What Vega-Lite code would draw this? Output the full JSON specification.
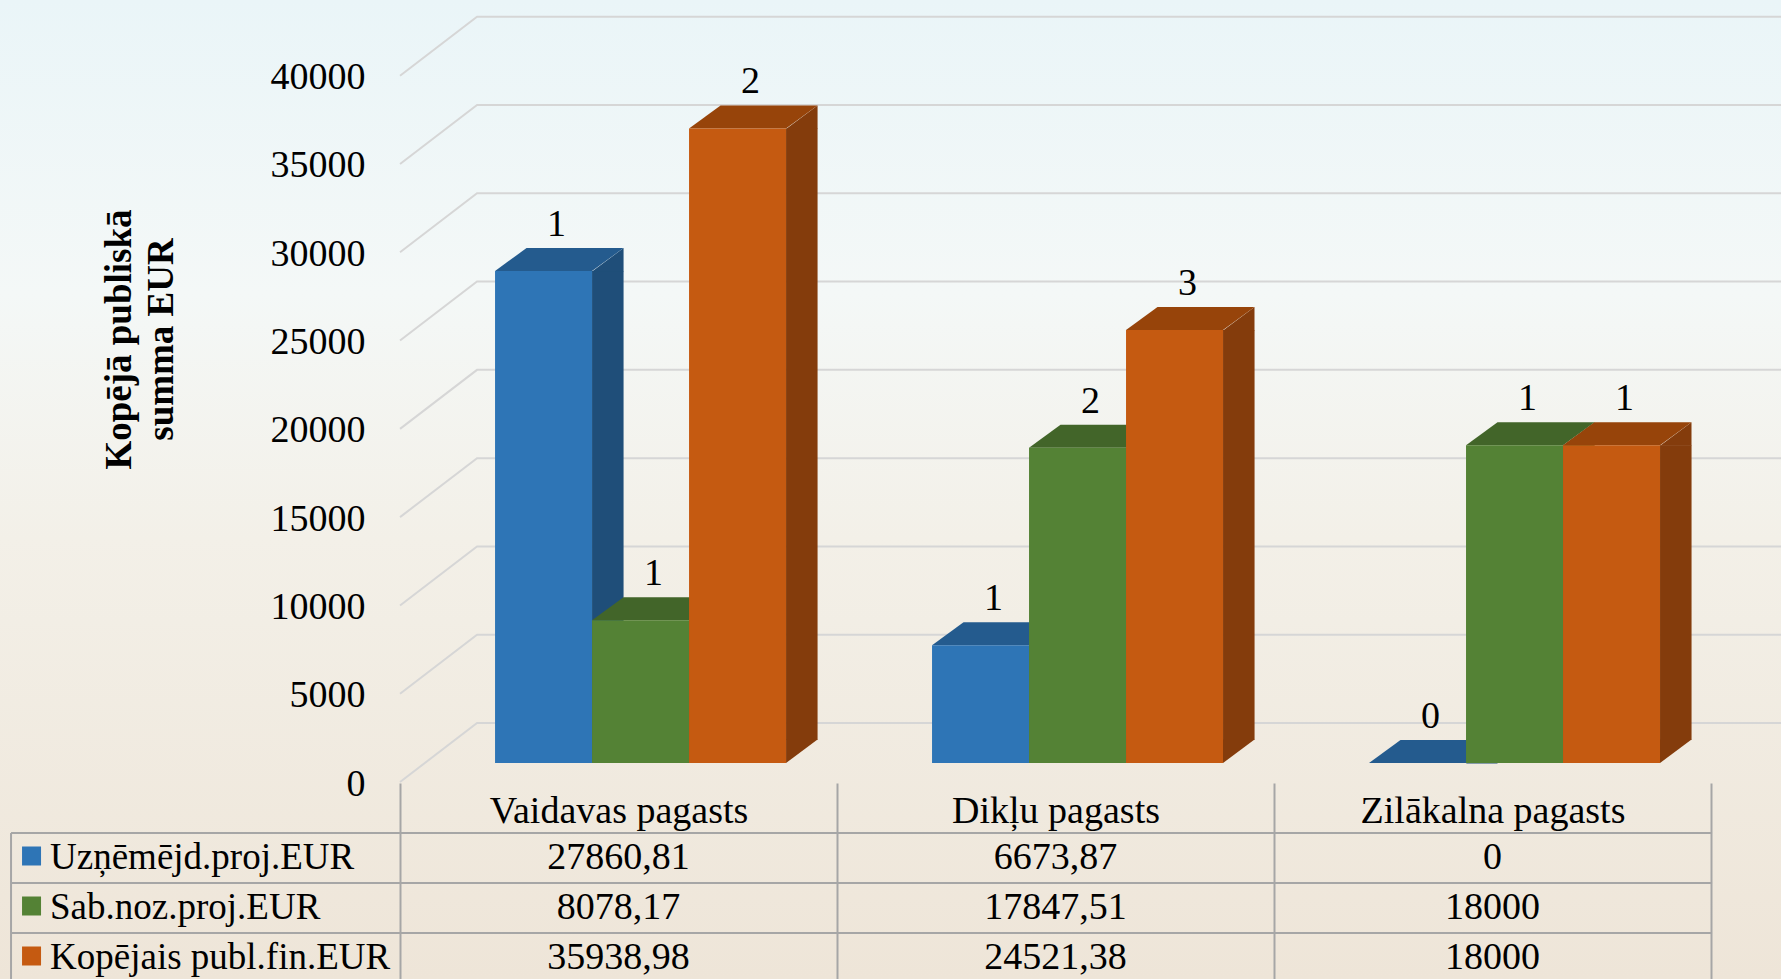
{
  "$schema": "https://vega.github.io/schema/vega-lite/v6.json",
  "width": 1781,
  "height": 979,
  "autosize": {"type": "none"},
  "padding": 0,
  "background": "#f1ede6",
  "config": {"view": {"stroke": null}, "font": "Liberation Serif"},
  "datasets": {
    "bars": [
      {"region": "Vaidavas pagasts", "series": "Uzņēmējd.proj.EUR", "value": 27860.81, "count": 1, "label": "27860,81"},
      {"region": "Vaidavas pagasts", "series": "Sab.noz.proj.EUR", "value": 8078.17, "count": 1, "label": "8078,17"},
      {"region": "Vaidavas pagasts", "series": "Kopējais publ.fin.EUR", "value": 35938.98, "count": 2, "label": "35938,98"},
      {"region": "Dikļu pagasts", "series": "Uzņēmējd.proj.EUR", "value": 6673.87, "count": 1, "label": "6673,87"},
      {"region": "Dikļu pagasts", "series": "Sab.noz.proj.EUR", "value": 17847.51, "count": 2, "label": "17847,51"},
      {"region": "Dikļu pagasts", "series": "Kopējais publ.fin.EUR", "value": 24521.38, "count": 3, "label": "24521,38"},
      {"region": "Zilākalna pagasts", "series": "Uzņēmējd.proj.EUR", "value": 0, "count": 0, "label": "0"},
      {"region": "Zilākalna pagasts", "series": "Sab.noz.proj.EUR", "value": 18000, "count": 1, "label": "18000"},
      {"region": "Zilākalna pagasts", "series": "Kopējais publ.fin.EUR", "value": 18000, "count": 1, "label": "18000"}
    ],
    "grid": [{"v": 0}, {"v": 5000}, {"v": 10000}, {"v": 15000}, {"v": 20000}, {"v": 25000}, {"v": 30000}, {"v": 35000}, {"v": 40000}],
    "bg": [{"k": 1}]
  },
  "resolve": {"scale": {"y": "independent", "color": "independent"}},
  "layer": [
    {
      "data": {"name": "bg"},
      "mark": {"type": "rect", "fill": {"gradient": "linear", "x1": 0, "y1": 0, "x2": 0, "y2": 1, "stops": [{"offset": 0, "color": "#eaf5f8"}, {"offset": 0.3, "color": "#f4f8f7"}, {"offset": 0.55, "color": "#f3f0e8"}, {"offset": 1, "color": "#eee5d8"}]}},
      "encoding": {}
    },
    {
      "resolve": {"scale": {"color": "independent", "xOffset": "independent"}},
      "layer": [
        {
          "data": {"name": "grid"},
          "mark": {"type": "point", "shape": "M-218.5,19L-141.5,-40L1162.5,-40", "size": 4, "filled": false, "stroke": "#d6d6d6", "strokeWidth": 2, "opacity": 1},
          "encoding": {
            "x": {"datum": "Vaidavas pagasts", "type": "nominal", "scale": {"type": "band", "domain": ["Vaidavas pagasts", "Dikļu pagasts", "Zilākalna pagasts"], "paddingInner": 0, "paddingOuter": 0.5378, "align": 0.8511},
              "axis": {"orient": "bottom", "zindex": 1, "offset": -196, "tickBand": "extent", "tickSize": 196, "tickColor": "#a6a6a6", "tickWidth": 2, "domain": false, "grid": false, "title": null, "labelFontSize": 38, "labelFont": "Liberation Serif", "labelColor": "#000", "labelPadding": -187, "labelLimit": 0, "labelAngle": 0}},
            "y": {"field": "v", "type": "quantitative", "scale": {"domain": [-12232, 43210], "nice": false, "zero": false},
              "axis": {"orient": "left", "zindex": 1, "offset": -375, "values": [0, 5000, 10000, 15000, 20000, 25000, 30000, 35000, 40000], "format": "d", "ticks": false, "domain": false, "grid": false, "labelFontSize": 38, "labelFont": "Liberation Serif", "labelColor": "#000", "labelPadding": 10, "labelOffset": 21, "labelLimit": 0,
                "title": ["Kopējā publiskā", "summa EUR"], "titleFont": "Liberation Serif", "titleFontSize": 37, "titleFontWeight": "bold", "titleColor": "#000", "titleAngle": -90, "titleAlign": "center", "titleBaseline": "middle", "titleX": -256, "titleY": 339, "titleLineHeight": 42, "titleLimit": 0}}
          }
        },
        {
          "data": {"name": "bars"},
          "mark": {"type": "bar", "y2Offset": -23},
          "encoding": {
            "x": {"field": "region", "type": "nominal",
              "axis": {"orient": "bottom", "zindex": 1, "offset": -196, "tickBand": "extent", "tickSize": 196, "tickColor": "#a6a6a6", "tickWidth": 2, "domain": false, "grid": false, "title": null, "labelFontSize": 38, "labelFont": "Liberation Serif", "labelColor": "#000", "labelPadding": -187, "labelLimit": 0, "labelAngle": 0}},
            "xOffset": {"field": "series", "type": "nominal", "scale": {"type": "band", "domain": ["_z", "Uzņēmējd.proj.EUR", "Sab.noz.proj.EUR", "Kopējais publ.fin.EUR"], "paddingInner": 0.675, "paddingOuter": 0.59, "align": 0.83}},
            "y": {"field": "value", "type": "quantitative",
              "axis": {"orient": "left", "zindex": 1, "offset": -375, "values": [0, 5000, 10000, 15000, 20000, 25000, 30000, 35000, 40000], "format": "d", "ticks": false, "domain": false, "grid": false, "labelFontSize": 38, "labelFont": "Liberation Serif", "labelColor": "#000", "labelPadding": 10, "labelOffset": 21, "labelLimit": 0,
                "title": ["Kopējā publiskā", "summa EUR"], "titleFont": "Liberation Serif", "titleFontSize": 37, "titleFontWeight": "bold", "titleColor": "#000", "titleAngle": -90, "titleAlign": "center", "titleBaseline": "middle", "titleX": -256, "titleY": 339, "titleLineHeight": 42, "titleLimit": 0}},
            "y2": {"datum": 0},
            "color": {"field": "series", "type": "nominal", "scale": {"domain": ["Uzņēmējd.proj.EUR", "Sab.noz.proj.EUR", "Kopējais publ.fin.EUR"], "range": ["#1f4e79", "#3a5d25", "#843c0c"]}, "legend": null}
          }
        },
        {
          "data": {"name": "bars"},
          "mark": {"type": "point", "shape": "M48.5,0.5L80,-23L80,0.5Z", "size": 4, "filled": true, "opacity": 1, "strokeWidth": 0},
          "encoding": {
            "x": {"field": "region", "type": "nominal",
              "axis": {"orient": "bottom", "zindex": 1, "offset": -196, "tickBand": "extent", "tickSize": 196, "tickColor": "#a6a6a6", "tickWidth": 2, "domain": false, "grid": false, "title": null, "labelFontSize": 38, "labelFont": "Liberation Serif", "labelColor": "#000", "labelPadding": -187, "labelLimit": 0, "labelAngle": 0}},
            "xOffset": {"field": "series", "type": "nominal", "scale": {"type": "band", "domain": ["Uzņēmējd.proj.EUR", "Sab.noz.proj.EUR", "Kopējais publ.fin.EUR"], "paddingInner": 0, "paddingOuter": 0.7526, "align": 0.6507}},
            "y": {"field": "value", "type": "quantitative",
              "axis": {"orient": "left", "zindex": 1, "offset": -375, "values": [0, 5000, 10000, 15000, 20000, 25000, 30000, 35000, 40000], "format": "d", "ticks": false, "domain": false, "grid": false, "labelFontSize": 38, "labelFont": "Liberation Serif", "labelColor": "#000", "labelPadding": 10, "labelOffset": 21, "labelLimit": 0,
                "title": ["Kopējā publiskā", "summa EUR"], "titleFont": "Liberation Serif", "titleFontSize": 37, "titleFontWeight": "bold", "titleColor": "#000", "titleAngle": -90, "titleAlign": "center", "titleBaseline": "middle", "titleX": -256, "titleY": 339, "titleLineHeight": 42, "titleLimit": 0}},
            "color": {"field": "series", "type": "nominal", "scale": {"domain": ["Uzņēmējd.proj.EUR", "Sab.noz.proj.EUR", "Kopējais publ.fin.EUR"], "range": ["#1f4e79", "#3a5d25", "#843c0c"]}, "legend": null}
          }
        },
        {
          "data": {"name": "bars"},
          "mark": {"type": "point", "shape": "M48.5,-23.5L80,-23.5L48.5,0Z", "size": 4, "filled": true, "opacity": 1, "strokeWidth": 0},
          "encoding": {
            "x": {"field": "region", "type": "nominal",
              "axis": {"orient": "bottom", "zindex": 1, "offset": -196, "tickBand": "extent", "tickSize": 196, "tickColor": "#a6a6a6", "tickWidth": 2, "domain": false, "grid": false, "title": null, "labelFontSize": 38, "labelFont": "Liberation Serif", "labelColor": "#000", "labelPadding": -187, "labelLimit": 0, "labelAngle": 0}},
            "xOffset": {"field": "series", "type": "nominal", "scale": {"type": "band", "domain": ["Uzņēmējd.proj.EUR", "Sab.noz.proj.EUR", "Kopējais publ.fin.EUR"], "paddingInner": 0, "paddingOuter": 0.7526, "align": 0.6507}},
            "y": {"datum": 0, "type": "quantitative",
              "axis": {"orient": "left", "zindex": 1, "offset": -375, "values": [0, 5000, 10000, 15000, 20000, 25000, 30000, 35000, 40000], "format": "d", "ticks": false, "domain": false, "grid": false, "labelFontSize": 38, "labelFont": "Liberation Serif", "labelColor": "#000", "labelPadding": 10, "labelOffset": 21, "labelLimit": 0,
                "title": ["Kopējā publiskā", "summa EUR"], "titleFont": "Liberation Serif", "titleFontSize": 37, "titleFontWeight": "bold", "titleColor": "#000", "titleAngle": -90, "titleAlign": "center", "titleBaseline": "middle", "titleX": -256, "titleY": 339, "titleLineHeight": 42, "titleLimit": 0}},
            "color": {"field": "series", "type": "nominal", "scale": {"domain": ["Uzņēmējd.proj.EUR", "Sab.noz.proj.EUR", "Kopējais publ.fin.EUR"], "range": ["#1f4e79", "#3a5d25", "#843c0c"]}, "legend": null}
          }
        },
        {
          "data": {"name": "bars"},
          "mark": {"type": "point", "shape": "M-48.5,0L48.5,0L80,-23L-17,-23Z", "size": 4, "filled": true, "opacity": 1, "strokeWidth": 0},
          "encoding": {
            "x": {"field": "region", "type": "nominal",
              "axis": {"orient": "bottom", "zindex": 1, "offset": -196, "tickBand": "extent", "tickSize": 196, "tickColor": "#a6a6a6", "tickWidth": 2, "domain": false, "grid": false, "title": null, "labelFontSize": 38, "labelFont": "Liberation Serif", "labelColor": "#000", "labelPadding": -187, "labelLimit": 0, "labelAngle": 0}},
            "xOffset": {"field": "series", "type": "nominal", "scale": {"type": "band", "domain": ["Uzņēmējd.proj.EUR", "Sab.noz.proj.EUR", "Kopējais publ.fin.EUR"], "paddingInner": 0, "paddingOuter": 0.7526, "align": 0.6507}},
            "y": {"field": "value", "type": "quantitative",
              "axis": {"orient": "left", "zindex": 1, "offset": -375, "values": [0, 5000, 10000, 15000, 20000, 25000, 30000, 35000, 40000], "format": "d", "ticks": false, "domain": false, "grid": false, "labelFontSize": 38, "labelFont": "Liberation Serif", "labelColor": "#000", "labelPadding": 10, "labelOffset": 21, "labelLimit": 0,
                "title": ["Kopējā publiskā", "summa EUR"], "titleFont": "Liberation Serif", "titleFontSize": 37, "titleFontWeight": "bold", "titleColor": "#000", "titleAngle": -90, "titleAlign": "center", "titleBaseline": "middle", "titleX": -256, "titleY": 339, "titleLineHeight": 42, "titleLimit": 0}},
            "color": {"field": "series", "type": "nominal", "scale": {"domain": ["Uzņēmējd.proj.EUR", "Sab.noz.proj.EUR", "Kopējais publ.fin.EUR"], "range": ["#245b8e", "#426529", "#97440a"]}, "legend": null}
          }
        },
        {
          "data": {"name": "bars"},
          "mark": {"type": "bar"},
          "encoding": {
            "x": {"field": "region", "type": "nominal",
              "axis": {"orient": "bottom", "zindex": 1, "offset": -196, "tickBand": "extent", "tickSize": 196, "tickColor": "#a6a6a6", "tickWidth": 2, "domain": false, "grid": false, "title": null, "labelFontSize": 38, "labelFont": "Liberation Serif", "labelColor": "#000", "labelPadding": -187, "labelLimit": 0, "labelAngle": 0}},
            "xOffset": {"field": "series", "type": "nominal", "scale": {"type": "band", "domain": ["Uzņēmējd.proj.EUR", "Sab.noz.proj.EUR", "Kopējais publ.fin.EUR"], "paddingInner": 0, "paddingOuter": 0.7526, "align": 0.6507}},
            "y": {"field": "value", "type": "quantitative",
              "axis": {"orient": "left", "zindex": 1, "offset": -375, "values": [0, 5000, 10000, 15000, 20000, 25000, 30000, 35000, 40000], "format": "d", "ticks": false, "domain": false, "grid": false, "labelFontSize": 38, "labelFont": "Liberation Serif", "labelColor": "#000", "labelPadding": 10, "labelOffset": 21, "labelLimit": 0,
                "title": ["Kopējā publiskā", "summa EUR"], "titleFont": "Liberation Serif", "titleFontSize": 37, "titleFontWeight": "bold", "titleColor": "#000", "titleAngle": -90, "titleAlign": "center", "titleBaseline": "middle", "titleX": -256, "titleY": 339, "titleLineHeight": 42, "titleLimit": 0}},
            "y2": {"datum": 0},
            "color": {"field": "series", "type": "nominal", "scale": {"domain": ["Uzņēmējd.proj.EUR", "Sab.noz.proj.EUR", "Kopējais publ.fin.EUR"], "range": ["#2e75b6", "#548235", "#c55a11"]}, "legend": null}
          }
        },
        {
          "data": {"name": "bars"},
          "mark": {"type": "text", "fontSize": 38, "font": "Liberation Serif", "color": "#000", "dx": 13, "dy": -35, "baseline": "alphabetic"},
          "encoding": {
            "x": {"field": "region", "type": "nominal",
              "axis": {"orient": "bottom", "zindex": 1, "offset": -196, "tickBand": "extent", "tickSize": 196, "tickColor": "#a6a6a6", "tickWidth": 2, "domain": false, "grid": false, "title": null, "labelFontSize": 38, "labelFont": "Liberation Serif", "labelColor": "#000", "labelPadding": -187, "labelLimit": 0, "labelAngle": 0}},
            "xOffset": {"field": "series", "type": "nominal", "scale": {"type": "band", "domain": ["Uzņēmējd.proj.EUR", "Sab.noz.proj.EUR", "Kopējais publ.fin.EUR"], "paddingInner": 0, "paddingOuter": 0.7526, "align": 0.6507}},
            "y": {"field": "value", "type": "quantitative",
              "axis": {"orient": "left", "zindex": 1, "offset": -375, "values": [0, 5000, 10000, 15000, 20000, 25000, 30000, 35000, 40000], "format": "d", "ticks": false, "domain": false, "grid": false, "labelFontSize": 38, "labelFont": "Liberation Serif", "labelColor": "#000", "labelPadding": 10, "labelOffset": 21, "labelLimit": 0,
                "title": ["Kopējā publiskā", "summa EUR"], "titleFont": "Liberation Serif", "titleFontSize": 37, "titleFontWeight": "bold", "titleColor": "#000", "titleAngle": -90, "titleAlign": "center", "titleBaseline": "middle", "titleX": -256, "titleY": 339, "titleLineHeight": 42, "titleLimit": 0}},
            "text": {"field": "count", "type": "quantitative"}
          }
        }
      ]
    },
    {
      "resolve": {"scale": {"color": "independent"}},
      "layer": [
        {
          "data": {"name": "bars"},
          "transform": [{"aggregate": [{"op": "count", "as": "n"}], "groupby": ["series"]}],
          "mark": {"type": "point", "shape": "M-607.5,-21L1093.5,-21", "size": 4, "filled": false, "stroke": "#a6a6a6", "strokeWidth": 2, "opacity": 1},
          "encoding": {
            "x": {"datum": "Vaidavas pagasts", "type": "nominal",
              "axis": {"orient": "bottom", "zindex": 1, "offset": -196, "tickBand": "extent", "tickSize": 196, "tickColor": "#a6a6a6", "tickWidth": 2, "domain": false, "grid": false, "title": null, "labelFontSize": 38, "labelFont": "Liberation Serif", "labelColor": "#000", "labelPadding": -187, "labelLimit": 0, "labelAngle": 0}},
            "y": {"field": "series", "type": "nominal", "scale": {"type": "band", "domain": ["_a", "_b", "_c", "_d", "_e", "_f", "_g", "_h", "_i", "_j", "_k", "_l", "_m", "_n", "_o", "_p", "Uzņēmējd.proj.EUR", "Sab.noz.proj.EUR", "Kopējais publ.fin.EUR"], "paddingInner": 0, "paddingOuter": 0.29, "align": 1}, "axis": null}
          }
        },
        {
          "data": {"name": "bars"},
          "transform": [{"filter": "datum.region === 'Vaidavas pagasts' && datum.series === 'Uzņēmējd.proj.EUR'"}],
          "mark": {"type": "rule", "stroke": "#a6a6a6", "strokeWidth": 2, "xOffset": -389, "yOffset": 833},
          "encoding": {
            "x": {"field": "region", "type": "nominal", "bandPosition": 0,
              "axis": {"orient": "bottom", "zindex": 1, "offset": -196, "tickBand": "extent", "tickSize": 196, "tickColor": "#a6a6a6", "tickWidth": 2, "domain": false, "grid": false, "title": null, "labelFontSize": 38, "labelFont": "Liberation Serif", "labelColor": "#000", "labelPadding": -187, "labelLimit": 0, "labelAngle": 0}}
          }
        },
        {
          "data": {"name": "bars"},
          "mark": {"type": "text", "fontSize": 38, "font": "Liberation Serif", "color": "#000", "baseline": "middle", "dy": 4},
          "encoding": {
            "x": {"field": "region", "type": "nominal",
              "axis": {"orient": "bottom", "zindex": 1, "offset": -196, "tickBand": "extent", "tickSize": 196, "tickColor": "#a6a6a6", "tickWidth": 2, "domain": false, "grid": false, "title": null, "labelFontSize": 38, "labelFont": "Liberation Serif", "labelColor": "#000", "labelPadding": -187, "labelLimit": 0, "labelAngle": 0}},
            "y": {"field": "series", "type": "nominal", "axis": null},
            "text": {"field": "label"}
          }
        },
        {
          "data": {"name": "bars"},
          "transform": [{"filter": "datum.region === 'Vaidavas pagasts'"}],
          "mark": {"type": "text", "fontSize": 37, "font": "Liberation Serif", "color": "#000", "baseline": "middle", "align": "left", "dy": 4, "dx": -568.5},
          "encoding": {
            "x": {"field": "region", "type": "nominal",
              "axis": {"orient": "bottom", "zindex": 1, "offset": -196, "tickBand": "extent", "tickSize": 196, "tickColor": "#a6a6a6", "tickWidth": 2, "domain": false, "grid": false, "title": null, "labelFontSize": 38, "labelFont": "Liberation Serif", "labelColor": "#000", "labelPadding": -187, "labelLimit": 0, "labelAngle": 0}},
            "y": {"field": "series", "type": "nominal", "axis": null},
            "text": {"field": "series"}
          }
        },
        {
          "data": {"name": "bars"},
          "transform": [{"filter": "datum.region === 'Vaidavas pagasts'"}],
          "mark": {"type": "point", "shape": "square", "size": 361, "filled": true, "opacity": 1, "strokeWidth": 0, "xOffset": -587, "yOffset": 2},
          "encoding": {
            "x": {"field": "region", "type": "nominal",
              "axis": {"orient": "bottom", "zindex": 1, "offset": -196, "tickBand": "extent", "tickSize": 196, "tickColor": "#a6a6a6", "tickWidth": 2, "domain": false, "grid": false, "title": null, "labelFontSize": 38, "labelFont": "Liberation Serif", "labelColor": "#000", "labelPadding": -187, "labelLimit": 0, "labelAngle": 0}},
            "y": {"field": "series", "type": "nominal", "axis": null},
            "color": {"field": "series", "type": "nominal", "scale": {"domain": ["Uzņēmējd.proj.EUR", "Sab.noz.proj.EUR", "Kopējais publ.fin.EUR"], "range": ["#2e75b6", "#548235", "#c55a11"]}, "legend": null}
          }
        }
      ]
    }
  ]
}
